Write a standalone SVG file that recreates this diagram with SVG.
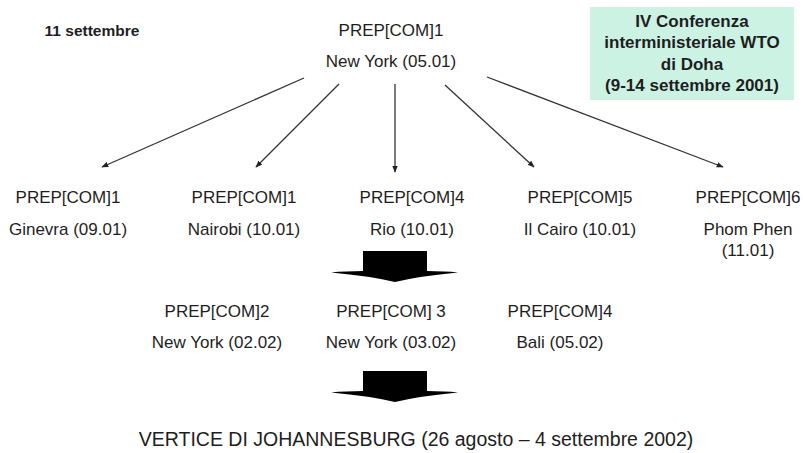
<svg xmlns="http://www.w3.org/2000/svg" width="803" height="453" viewBox="0 0 803 453">
<style>
text{font-family:"Liberation Sans",Arial,sans-serif;font-size:17px;fill:#1e1e1e;text-anchor:middle}
.b{font-weight:bold}
.c{stroke:#333;stroke-width:1.3;fill:none;marker-end:url(#ah)}
.blk{fill:#000}
</style>
<defs>
<marker id="ah" viewBox="0 0 10 10" refX="9" refY="5" markerWidth="7" markerHeight="7" markerUnits="userSpaceOnUse" orient="auto">
<path d="M0,1 L10,5 L0,9 Z" fill="#222"/>
</marker>
</defs>
<rect width="803" height="453" fill="#fff"/>
<g id="sept11"><text class="b" x="92" y="36" style="font-size:15.5px">11 settembre</text></g>
<g id="doha">
<rect x="590" y="7" width="204" height="93" fill="#ccf2e4"/>
<text class="b" x="692" y="27">IV Conferenza</text>
<text class="b" x="692" y="48">interministeriale WTO</text>
<text class="b" x="692" y="70">di Doha</text>
<text class="b" x="692" y="91">(9-14 settembre 2001)</text>
</g>
<g id="ny0501"><text x="391" y="36">PREP[COM]1</text><text x="391" y="67">New York (05.01)</text></g>
<g id="ginevra"><text x="68" y="203">PREP[COM]1</text><text x="68" y="235">Ginevra (09.01)</text></g>
<g id="nairobi"><text x="244" y="203">PREP[COM]1</text><text x="244" y="235">Nairobi (10.01)</text></g>
<g id="rio"><text x="412" y="203">PREP[COM]4</text><text x="412" y="235">Rio (10.01)</text></g>
<g id="cairo"><text x="580" y="203">PREP[COM]5</text><text x="580" y="235">Il Cairo (10.01)</text></g>
<g id="phnom"><text x="748" y="203">PREP[COM]6</text><text x="748" y="235">Phom Phen</text><text x="748" y="256">(11.01)</text></g>
<g id="ny0202"><text x="217" y="317">PREP[COM]2</text><text x="217" y="348">New York (02.02)</text></g>
<g id="ny0302"><text x="391" y="317">PREP[COM] 3</text><text x="391" y="348">New York (03.02)</text></g>
<g id="bali"><text x="560" y="317">PREP[COM]4</text><text x="560" y="348">Bali (05.02)</text></g>
<g id="vertice"><text x="416" y="446" style="font-size:19.5px">VERTICE DI JOHANNESBURG (26 agosto – 4 settembre 2002)</text></g>
<g id="connectors">
<line class="c" x1="304" y1="78" x2="102" y2="167"/>
<line class="c" x1="339" y1="84" x2="256" y2="167"/>
<line class="c" x1="395" y1="84" x2="395" y2="172"/>
<line class="c" x1="445" y1="85" x2="534" y2="167"/>
<line class="c" x1="487" y1="77" x2="723" y2="167"/>
<path class="blk" d="M363,251 H427 V271 Q445,271 458,272.5 Q420,276 395,282 Q370,276 331,272.5 Q345,271 363,271 Z"/>
<path class="blk" d="M363,371 H427 V391 Q445,391 458,392.5 Q420,396 395,402 Q370,396 331,392.5 Q345,391 363,391 Z"/>
</g>
</svg>
